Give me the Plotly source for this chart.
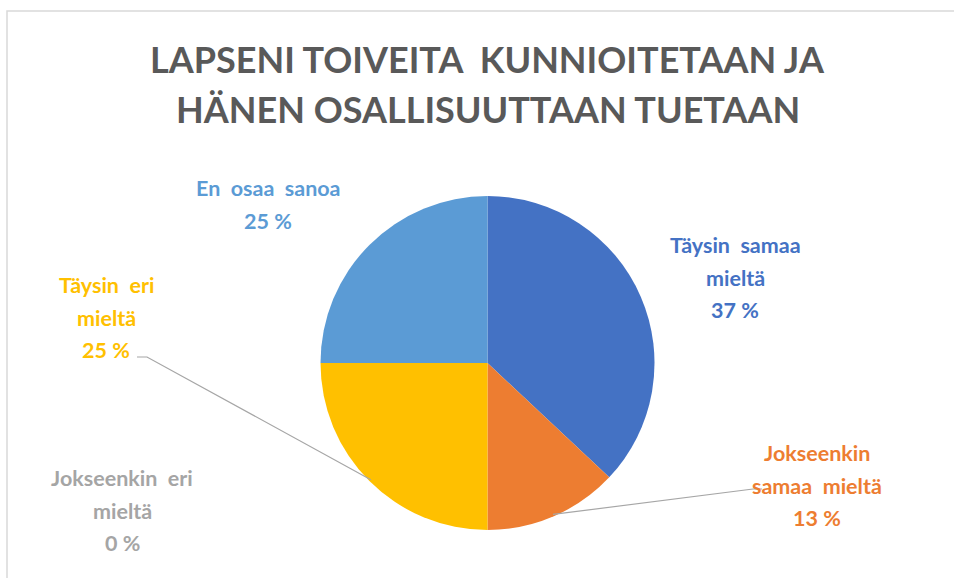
import math
import plotly.graph_objects as go

# ---- data ----
categories = ["Täysin samaa mieltä", "Jokseenkin samaa mieltä", "Jokseenkin eri mieltä",
              "Täysin eri mieltä", "En osaa sanoa"]
values = [37, 13, 0, 25, 25]
title_lines = ["LAPSENI TOIVEITA  KUNNIOITETAAN JA", "HÄNEN OSALLISUUTTAAN TUETAAN"]

# ---- style / layout ----
colors = ["#4472C4", "#ED7D31", "#A5A5A5", "#FFC000", "#5B9BD5"]
W, H = 954, 578
CX, CY, R = 487.5, 363.0, 167.0

# label wrapping and placement (pixel centre x, first-line y, line gap)
label_wrap = [["Täysin  samaa", "mieltä"], ["Jokseenkin", "samaa  mieltä"],
              ["Jokseenkin  eri", "mieltä"], ["Täysin  eri", "mieltä"], ["En  osaa  sanoa"]]
label_pos = [(735, 245), (817, 453), (122, 478), (106, 285), (268, 188)]
LINE_GAP = 32.5
leader_for = {1: (762, 489, 753), 3: (137, 357, 147)}  # label end x, y, elbow x

def px(x):
    return x / W

def py(y):
    return 1 - y / H

fig = go.Figure(go.Pie(
    labels=categories, values=values, sort=False, direction="clockwise", rotation=0,
    marker=dict(colors=colors, line=dict(width=0)), textinfo="none", hoverinfo="label+percent",
    domain=dict(x=[px(CX - R), px(CX + R)], y=[py(CY + R), py(CY - R)]),
    showlegend=False,
))

annotations = []
font_lbl = "Lato"
for i, (cat, v) in enumerate(zip(categories, values)):
    lines = label_wrap[i] + [f"{v} %"]
    x0, y0 = label_pos[i]
    for k, t in enumerate(lines):
        annotations.append(dict(
            x=px(x0), y=py(y0 + k * LINE_GAP), xref="paper", yref="paper",
            text=f"<b>{t}</b>", showarrow=False, xanchor="center", yanchor="middle",
            font=dict(family=font_lbl, size=21.5, color=colors[i]),
        ))

for k, t in enumerate(title_lines):
    annotations.append(dict(
        x=px(487.5), y=py(59 + k * 50), xref="paper", yref="paper", text=f"<b>{t}</b>",
        showarrow=False, xanchor="center", yanchor="middle",
        font=dict(family="Lato", size=36, color="#595959"),
    ))

shapes = []
total = sum(values)
cum = 0
edge_pts = []
for v in values:
    a = math.radians(360 * (cum + v / 2) / total)
    edge_pts.append((CX + (R - 2) * math.sin(a), CY - (R - 2) * math.cos(a)))
    cum += v

for i, (lx, ly, ex) in leader_for.items():
    ex_, ey_ = edge_pts[i]
    path = f"M {px(lx)} {py(ly)} L {px(ex)} {py(ly)} L {px(ex_)} {py(ey_)}"
    shapes.append(dict(type="path", xref="paper", yref="paper", path=path,
                       line=dict(color="#A6A6A6", width=1.2)))

shapes.append(dict(type="rect", xref="paper", yref="paper", x0=px(7), x1=1.02,
                   y0=-0.02, y1=py(11), line=dict(color="#D9D9D9", width=1.5), layer="below"))

fig.update_layout(
    width=W, height=H, margin=dict(l=0, r=0, t=0, b=0),
    paper_bgcolor="white", plot_bgcolor="white",
    annotations=annotations, shapes=shapes,
)
fig.write_html("out.html", config={"displayModeBar": False},
               post_script="document.body.style.margin='0';document.body.style.overflow='hidden';")
